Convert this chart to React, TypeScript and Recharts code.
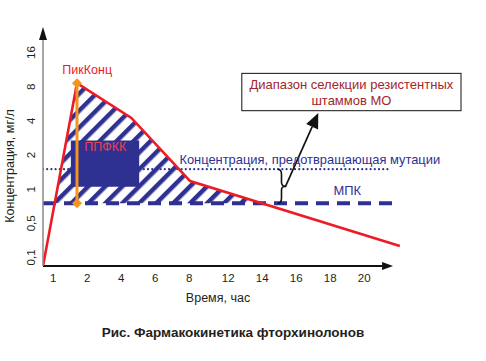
import React from 'react'
import {
  ComposedChart, Line, Area, XAxis, YAxis,
  ReferenceLine, ReferenceDot, ReferenceArea,
} from 'recharts'

const FONT = '"Liberation Sans", Arial, Helvetica, sans-serif'
const RED = '#ed1c24'
const BLUE = '#2e3192'
const ORANGE = '#f7941d'
const DARKRED = '#a3262b'
const INK = '#231f20'

// time axis is not linear: tick slots are evenly spaced, 8 -> 12 a bit wider
const hourBreaks = [0, 1, 2, 8, 12, 20, 27]
const slotBreaks = [-0.3, 0, 1, 4, 5.15, 9.15, 12.65]

const xTickHours = [1, 2, 4, 6, 8, 12, 14, 16, 18, 20]
const yTickConc = [0.1, 0.5, 1, 2, 4, 8, 16]
const yTickLabels = ['0,1', '0,5', '1', '2', '4', '8', '16']

// concentration curve, mg/l
const curveHours = [0, 1.7, 4.6, 8.1, 22.1]
const curveConc = [0, 8.6, 4.25, 1.18, 0.235]

// hatched zone between curve and MIC
const hatchHours = [1.04, 1.7, 4.6, 8.1, 14.1]
const hatchTop = [0.75, 8.6, 4.25, 1.18, 0.75]

const MIC = 0.75          // МПК
const MPC = 1.5           // mutant prevention concentration
const micHours = [0, 21.7]
const mpcHours = [0, 21.4]

const peakHour = 1.7
const peakConc = 8.6

const ppfkkHours = [1.52, 5.06]
const ppfkkConc = [1.05, 2.68]

function toSlot(h: number) {
  for (let i = 1; i < hourBreaks.length; i++) {
    if (h <= hourBreaks[i] || i === hourBreaks.length - 1) {
      const t = (h - hourBreaks[i - 1]) / (hourBreaks[i] - hourBreaks[i - 1])
      return slotBreaks[i - 1] + t * (slotBreaks[i] - slotBreaks[i - 1])
    }
  }
  return h
}

// 0.1..0.5 linear, then doubling per step
function level(c: number) {
  return c <= 0.5 ? (c - 0.1) / 0.4 : 1 + Math.log2(c / 0.5)
}

const curveData = curveHours.map((h, i) => ({ x: toSlot(h), y: level(curveConc[i]) }))
const hatchData = hatchHours.map((h, i) => ({ x: toSlot(h), r: [level(MIC), level(hatchTop[i])] }))
const ppfkkData = ppfkkHours.map(h => ({ x: toSlot(h), r: [level(ppfkkConc[0]), level(ppfkkConc[1])] }))
const micData = micHours.map(h => ({ x: toSlot(h), y: level(MIC) }))
const mpcData = mpcHours.map(h => ({ x: toSlot(h), y: level(MPC) }))
const peakData = [MIC, peakConc].map(c => ({ x: toSlot(peakHour), y: level(c) }))

function YTick(props: any) {
  const { x, y, index } = props
  const cx = x - 4
  return (
    <text x={cx} y={y} transform={`rotate(-90 ${cx} ${y})`} textAnchor="middle"
      dominantBaseline="central" fontSize={11.5} fill={INK} fontFamily={FONT}>
      {yTickLabels[index]}
    </text>
  )
}

const Diamond = (p: any) => (
  <polygon key={p.index}
    points={`${p.cx},${p.cy - 5} ${p.cx + 5},${p.cy} ${p.cx},${p.cy + 5} ${p.cx - 5},${p.cy}`}
    fill={ORANGE} />
)

const textAt = (text: string, color: string, size: number) => (p: any) => (
  <text x={p.cx} y={p.cy} textAnchor="middle" dominantBaseline="central"
    fill={color} fontSize={size} fontFamily={FONT}>{text}</text>
)

const arrowLine = (color: string, width: number, len: number, half: number) => (p: any) => {
  const { x1, y1, x2, y2 } = p
  const dx = x2 - x1, dy = y2 - y1
  const d = Math.hypot(dx, dy) || 1
  const ux = dx / d, uy = dy / d
  const bx = x2 - ux * len, by = y2 - uy * len
  return (
    <g>
      <line x1={x1} y1={y1} x2={bx} y2={by} stroke={color} strokeWidth={width} />
      <polygon points={`${x2},${y2} ${bx - uy * half},${by + ux * half} ${bx + uy * half},${by - ux * half}`} fill="#111" />
    </g>
  )
}

const brace = (p: any) => {
  const { x1, y1, y2 } = p
  const top = Math.min(y1, y2), bot = Math.max(y1, y2)
  const mid = (top + bot) / 2
  const x = x1, w = 4
  const d = `M${x},${top} Q${x + w},${top} ${x + w},${top + 5} L${x + w},${mid - 4} Q${x + w},${mid} ${x + 2 * w},${mid} Q${x + w},${mid} ${x + w},${mid + 4} L${x + w},${bot - 5} Q${x + w},${bot} ${x},${bot}`
  return <path d={d} fill="none" stroke="#111" strokeWidth={1.6} />
}

const noteBox = (p: any) => {
  const { x, y, width, height } = p
  return (
    <g>
      <rect x={x} y={y} width={width} height={height} fill="#fff" stroke="#111" strokeWidth={1} />
      <text x={x + width / 2} y={y + height * 0.29} textAnchor="middle" dominantBaseline="central"
        fill={DARKRED} fontSize={13} fontFamily={FONT}>Диапазон селекции резистентных</text>
      <text x={x + width / 2} y={y + height * 0.74} textAnchor="middle" dominantBaseline="central"
        fill={DARKRED} fontSize={13} fontFamily={FONT}>штаммов МО</text>
    </g>
  )
}

export default function App() {
  return (
    <div style={{ position: 'absolute', left: 0, top: 0, width: 486, height: 361, background: '#fff', fontFamily: FONT }}>
      <ComposedChart width={486} height={361} margin={{ top: 27, right: 8, bottom: 65, left: 0 }}>
        <defs>
          <pattern id="hatch" patternUnits="userSpaceOnUse" width="12" height="12" patternTransform="rotate(45)">
            <rect x="0" y="0" width="4.5" height="12" fill={BLUE} />
          </pattern>
        </defs>
        <XAxis
          type="number"
          dataKey="x"
          domain={[-0.3, 12.5]}
          allowDataOverflow
          ticks={xTickHours.map(toSlot)}
          tickFormatter={(_v: number, i: number) => String(xTickHours[i])}
          interval={0}
          axisLine={false}
          tickLine={false}
          height={30}
          tick={{ fill: INK, fontSize: 11.5, fontFamily: FONT }}
        />
        <YAxis
          type="number"
          domain={[-0.25, 6.75]}
          allowDataOverflow
          ticks={yTickConc.map(level)}
          interval={0}
          axisLine={false}
          tickLine={false}
          width={43}
          tick={<YTick />}
        />
        <Area data={hatchData} dataKey="r" type="linear" stroke="none" fill="url(#hatch)" fillOpacity={1} isAnimationActive={false} />
        <Area data={ppfkkData} dataKey="r" type="linear" stroke="none" fill={BLUE} fillOpacity={1} isAnimationActive={false} />
        <Line data={mpcData} dataKey="y" stroke={BLUE} strokeWidth={2.2} strokeDasharray="0 4.2" strokeLinecap="round" dot={false} isAnimationActive={false} />
        <Line data={micData} dataKey="y" stroke={BLUE} strokeWidth={4} strokeDasharray="13 8" dot={false} isAnimationActive={false} />
        <Line data={curveData} dataKey="y" stroke={RED} strokeWidth={2.6} dot={false} isAnimationActive={false} />
        <Line data={peakData} dataKey="y" stroke={ORANGE} strokeWidth={3} dot={Diamond} activeDot={false} isAnimationActive={false} />

        {/* axes with arrowheads */}
        <ReferenceLine ifOverflow="visible"
          segment={[{ x: toSlot(0), y: level(0) }, { x: toSlot(21.7), y: level(0) }]}
          shape={arrowLine('#111', 2, 11, 4)} />
        <ReferenceLine ifOverflow="visible"
          segment={[{ x: toSlot(0), y: level(0) }, { x: toSlot(0), y: 6.75 }]}
          shape={arrowLine('#8a8a8a', 1.5, 13, 4)} />

        {/* annotations */}
        <ReferenceLine ifOverflow="visible"
          segment={[{ x: toSlot(14.9), y: level(MPC) }, { x: toSlot(14.9), y: level(MIC) }]}
          shape={brace} />
        <ReferenceLine ifOverflow="visible"
          segment={[{ x: toSlot(15.35), y: level(1.04) }, { x: toSlot(17.3), y: level(4.69) }]}
          shape={arrowLine('#111', 1.8, 15, 6.5)} />
        <ReferenceArea ifOverflow="visible"
          x1={toSlot(12.8)} x2={toSlot(25.7)} y1={level(4.92)} y2={level(10.5)}
          shape={noteBox} />
        <ReferenceDot ifOverflow="visible" x={toSlot(2.0)} y={level(11.2)} r={0}
          shape={textAt('ПикКонц', RED, 12.5)} />
        <ReferenceDot ifOverflow="visible" x={toSlot(3.06)} y={level(2.36)} r={0}
          shape={textAt('ППФКК', '#e8424f', 12.5)} />
        <ReferenceDot ifOverflow="visible" x={toSlot(16.8)} y={level(1.83)} r={0}
          shape={textAt('Концентрация, предотвращающая мутации', BLUE, 12.9)} />
        <ReferenceDot ifOverflow="visible" x={toSlot(19.0)} y={level(0.97)} r={0}
          shape={textAt('МПК', BLUE, 12.9)} />
      </ComposedChart>

      <div style={{ position: 'absolute', left: 10, top: 166, transform: 'translate(-50%, -50%) rotate(-90deg)', whiteSpace: 'nowrap', fontSize: 12.5, color: INK }}>
        Концентрация, мг/л
      </div>
      <div style={{ position: 'absolute', left: 218, top: 298, transform: 'translate(-50%, -50%)', whiteSpace: 'nowrap', fontSize: 12.5, color: INK }}>
        Время, час
      </div>
      <div style={{ position: 'absolute', left: 233, top: 332, transform: 'translate(-50%, -50%)', whiteSpace: 'nowrap', fontSize: 13.5, fontWeight: 'bold', color: INK }}>
        Рис. Фармакокинетика фторхинолонов
      </div>
    </div>
  )
}
